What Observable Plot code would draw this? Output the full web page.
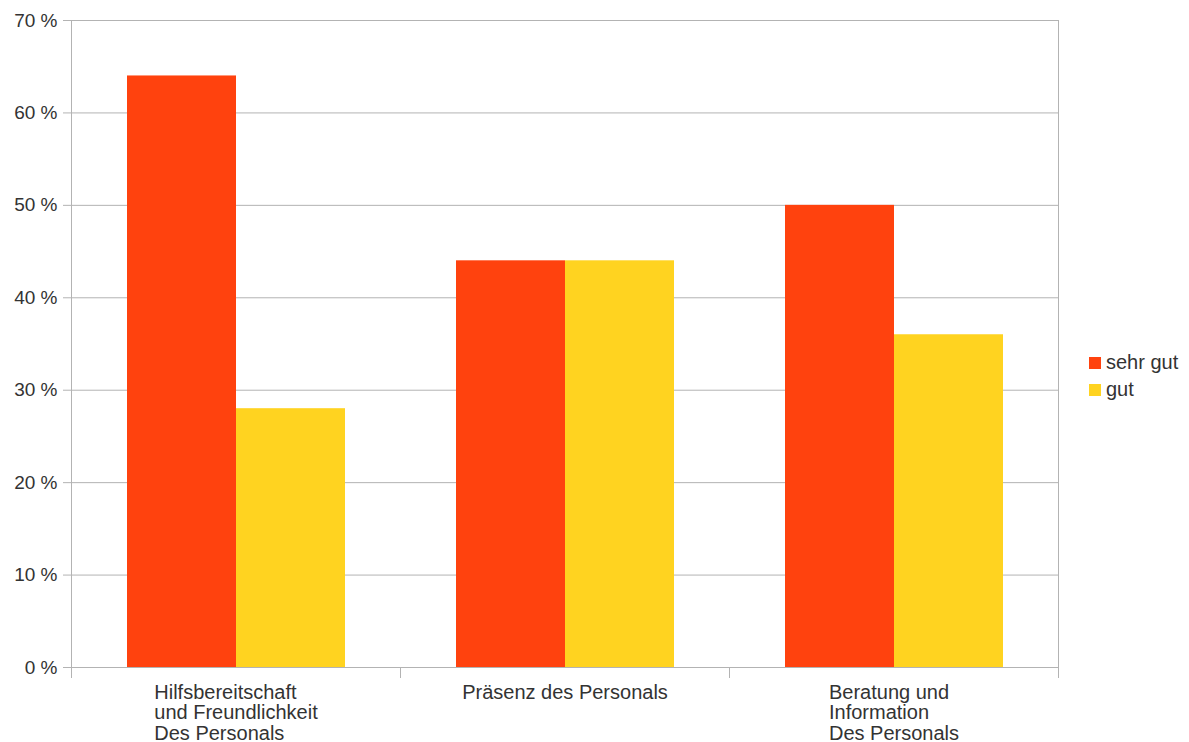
<!DOCTYPE html>
<html><head><meta charset="utf-8">
<script src="https://cdn.jsdelivr.net/npm/d3@7"></script>
<script src="https://cdn.jsdelivr.net/npm/@observablehq/plot@0.6"></script>
<style>
body{margin:0;background:#fff;font-family:"Liberation Sans",Arial,sans-serif;}
#wrap{position:relative;width:1189px;height:742px;}
#legend{position:absolute;left:1089px;top:349px;font-size:20px;color:#333;}
.item{display:flex;align-items:center;height:27px;}
.sw{width:12px;height:12px;margin-right:5px;}
</style></head><body><div id="wrap"><div id="legend"></div></div>
<script>
const categories = ["Hilfsbereitschaft\nund Freundlichkeit\nDes Personals", "Präsenz des Personals", "Beratung und\nInformation\nDes Personals"];
const series = ["sehr gut", "gut"];
const sehrGut = [64, 44, 50];
const gut = [28, 44, 36];
const colors = ["#ff420e", "#ffd320"];
const yTicks = [0, 10, 20, 30, 40, 50, 60, 70];

const rows = categories.flatMap((c, i) => [
  {cat: c, series: series[0], value: sehrGut[i]},
  {cat: c, series: series[1], value: gut[i]}
]);

const W = 1189, H = 742, mt = 20, mb = 75, ml = 70, mr = 131;
const plotH = H - mt - mb;
const fontSize = 20;
const ctx = document.createElement("canvas").getContext("2d");
ctx.font = `${fontSize}px "Liberation Sans"`;
const blockW = c => d3.max(c.split("\n"), l => ctx.measureText(l).width);
const grid = "#b3b3b3";

const chart = Plot.plot({
  width: W, height: H,
  marginTop: mt, marginBottom: mb, marginLeft: ml, marginRight: mr,
  style: {fontFamily: '"Liberation Sans", Arial, sans-serif', fontSize: fontSize + "px", color: "#333", background: "#fff"},
  fx: {domain: categories, padding: 0, axis: null},
  x: {domain: series, paddingInner: 0, paddingOuter: 0.5, axis: null},
  y: {domain: [0, 70], axis: null},
  color: {domain: series, range: colors},
  marks: [
    Plot.gridY(yTicks, {stroke: grid, strokeOpacity: 1}),
    Plot.frame({anchor: "left", stroke: grid, fx: () => categories[0]}),
    Plot.frame({anchor: "right", stroke: grid, fx: () => categories[categories.length - 1]}),
    Plot.frame({anchor: "left", stroke: grid, insetTop: plotH, insetBottom: -10}),
    Plot.frame({anchor: "right", stroke: grid, insetTop: plotH, insetBottom: -10}),
    Plot.axisY(yTicks, {tickFormat: d => d + " %", tickSize: 8, tickPadding: 6, stroke: grid, fill: "#333", label: null, fontSize: 19}),
    Plot.barY(rows, {fx: "cat", x: "series", y: "value", fill: "series"}),
    ...categories.map(c => Plot.text([c], {
      fx: d => d, text: d => d, frameAnchor: "bottom", textAnchor: "start", lineAnchor: "top",
      dy: 16.5, dx: -blockW(c) / 2, lineHeight: 20.5 / fontSize, fill: "#333"
    }))
  ]
});
document.getElementById("wrap").prepend(chart);

const legend = document.getElementById("legend");
series.forEach((s, i) => {
  const it = document.createElement("div"); it.className = "item";
  const sw = document.createElement("span"); sw.className = "sw"; sw.style.background = colors[i];
  const t = document.createElement("span"); t.textContent = s;
  it.append(sw, t); legend.append(it);
});
</script></body></html>
